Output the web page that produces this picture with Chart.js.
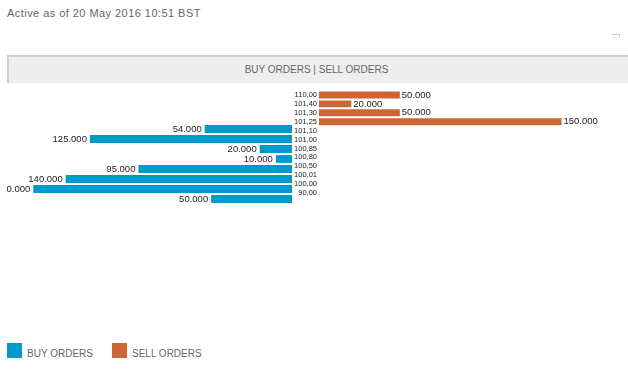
<!DOCTYPE html>
<html>
<head>
<meta charset="utf-8">
<script src="https://cdn.jsdelivr.net/npm/chart.js@4"></script>
<style>
  body { margin: 0; width: 628px; height: 370px; background: #fff; position: relative; overflow: hidden;
         font-family: "Liberation Sans", Arial, sans-serif; color: #666; }
  #asof { position: absolute; left: 7px; top: 7px; font-size: 11px; letter-spacing: 0.45px; }
  #corner { position: absolute; left: 612px; top: 34px; width: 7px; height: 2px;
            border-top: 1px solid #ccc; border-right: 1px solid #ccc; }
  #head { position: absolute; left: 7px; top: 55px; width: 621px; height: 28px; box-sizing: border-box;
          background: #eee; border-top: 2px solid #d0d0d0; border-left: 2px solid #d0d0d0;
          font-size: 10px; line-height: 26px; text-align: center; padding-right: 4px; }
  #wrap { position: absolute; left: 7px; top: 84px; width: 592px; height: 120px; overflow: hidden; }
  #buyBox { position: absolute; left: -6px; top: 0; width: 291px; height: 120px; }
  #sellBox { position: absolute; left: 285px; top: 0; width: 318px; height: 120px; }
  #legend { position: absolute; left: 7px; top: 343px; font-size: 10px; }
  .item { position: absolute; top: 0; white-space: nowrap; }
  .sw { display: inline-block; width: 15px; height: 15px; vertical-align: top; }
  .txt { position: absolute; left: 20px; top: 5px; }
</style>
</head>
<body>
<div id="asof">Active as of 20 May 2016 10:51 BST</div>
<div id="corner"></div>
<div id="head">BUY ORDERS | SELL ORDERS</div>
<div id="wrap">
  <div id="buyBox"><canvas id="buyChart"></canvas></div>
  <div id="sellBox"><canvas id="sellChart"></canvas></div>
</div>
<div id="legend">
  <div class="item" style="left:0"><span class="sw" style="background:#0099cc"></span><span class="txt">BUY ORDERS</span></div>
  <div class="item" style="left:105px"><span class="sw" style="background:#cc6633"></span><span class="txt">SELL ORDERS</span></div>
</div>

<script>
// ===== DỮ LIỆU =====
const prices = ["110,00", "101,40", "101,30", "101,25", "101,10", "101,00",
                "100,85", "100,80", "100,50", "100,01", "100,00", "90,00"];
const buyOrders = [null, null, null, null, 54000, 125000, 20000, 10000, 95000, 140000, 160000, 50000];
const sellOrders = [50000, 20000, 50000, 150000, null, null, null, null, null, null, null, null];
const axisMax = 180000;

const BLUE = "#0099cc";
const ORANGE = "#cc6633";

// 54000 -> "54.000"
function fmt(v) {
  return String(v).replace(/\B(?=(\d{3})+(?!\d))/g, ".");
}

// Vẽ số bên cạnh mỗi thanh
const valueLabels = {
  id: "valueLabels",
  afterDatasetsDraw(chart, args, opts) {
    const ctx = chart.ctx;
    ctx.save();
    ctx.font = '9.5px "Liberation Sans", Arial, sans-serif';
    ctx.fillStyle = "#222";
    ctx.textBaseline = "middle";
    ctx.textAlign = opts.side === "left" ? "right" : "left";
    chart.data.datasets.forEach((ds, i) => {
      chart.getDatasetMeta(i).data.forEach((bar, j) => {
        const v = ds.data[j];
        if (v == null) return;
        const x = opts.side === "left" ? bar.x - 3 : bar.x + 2;
        ctx.fillText(fmt(v), x, bar.y);
      });
    });
    ctx.restore();
  },
};

const common = {
  indexAxis: "y",
  responsive: true,
  maintainAspectRatio: false,
  animation: false,
  layout: { padding: 0 },
  plugins: { legend: { display: false }, tooltip: { enabled: false } },
};

// Bên trái: lệnh mua (trục x đảo chiều)
new Chart(document.getElementById("buyChart"), {
  type: "bar",
  data: {
    labels: prices,
    datasets: [{
      label: "BUY ORDERS",
      data: buyOrders,
      backgroundColor: BLUE,
      categoryPercentage: 1,
      barPercentage: 0.78,
    }],
  },
  options: {
    ...common,
    plugins: { ...common.plugins, valueLabels: { side: "left" } },
    scales: {
      x: { display: false, reverse: true, min: 0, max: axisMax },
      y: { display: false },
    },
  },
  plugins: [valueLabels],
});

// Bên phải: lệnh bán, nhãn giá nằm ở trục y
new Chart(document.getElementById("sellChart"), {
  type: "bar",
  data: {
    labels: prices,
    datasets: [{
      label: "SELL ORDERS",
      data: sellOrders,
      backgroundColor: ORANGE,
      categoryPercentage: 1,
      barPercentage: 0.78,
    }],
  },
  options: {
    ...common,
    plugins: { ...common.plugins, valueLabels: { side: "right" } },
    scales: {
      x: { display: false, min: 0, max: axisMax },
      y: {
        position: "left",
        grid: { display: false, drawTicks: false },
        border: { display: false },
        ticks: {
          autoSkip: false,
          padding: 2,
          color: "#222",
          font: { family: '"Liberation Sans", Arial, sans-serif', size: 7.5 },
        },
        afterFit(scale) { scale.width = 27; },
      },
    },
  },
  plugins: [valueLabels],
});
</script>
</body>
</html>
